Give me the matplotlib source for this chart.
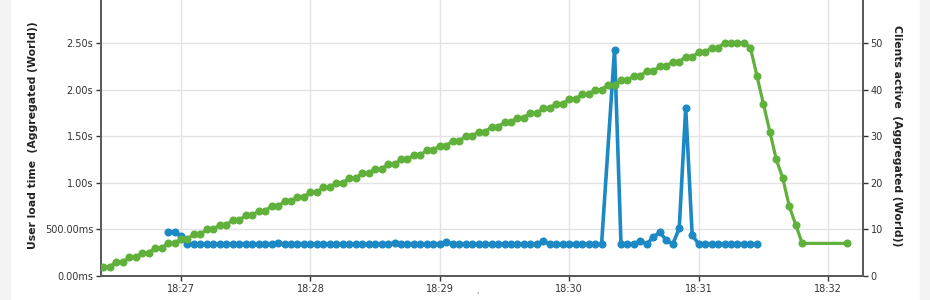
import numpy as np
import matplotlib
matplotlib.use("Agg")
import matplotlib.pyplot as plt
from matplotlib.patches import Rectangle

# samples every 3 s, time in minutes past 18:00
sample_start = 26.4
sample_step = 0.05

# clients active (Aggregated (World)) - one value per sample, nan = no sample
clients = [2, 2, 3, 3, 4, 4, 5, 5, 6, 6, 7, 7, 8, 8, 9, 9, 10, 10, 11, 11,
           12, 12, 13, 13, 14, 14, 15, 15, 16, 16, 17, 17, 18, 18, 19, 19, 20, 20, 21, 21,
           22, 22, 23, 23, 24, 24, 25, 25, 26, 26, 27, 27, 28, 28, 29, 29, 30, 30, 31, 31,
           32, 32, 33, 33, 34, 34, 35, 35, 36, 36, 37, 37, 38, 38, 39, 39, 40, 40, 41, 41,
           42, 42, 43, 43, 44, 44, 45, 45, 46, 46, 47, 47, 48, 48, 49, 49, 50, 50, 50, 50,
           49, 43, 37, 31, 25, 21, 15, 11, 7,
           np.nan, np.nan, np.nan, np.nan, np.nan, np.nan, 7]

# user load time in seconds, first sample at index 10
load_offset = 10
load_time = [0.475, 0.475, 0.43,
             0.343, 0.343, 0.343, 0.343, 0.343, 0.343, 0.343, 0.343, 0.343, 0.343,
             0.343, 0.343, 0.343, 0.343, 0.355, 0.343, 0.343, 0.343, 0.343, 0.343,
             0.343, 0.343, 0.343, 0.343, 0.343, 0.343, 0.343, 0.343, 0.343, 0.343,
             0.343, 0.343, 0.355, 0.343, 0.343, 0.343, 0.343, 0.343, 0.343, 0.343,
             0.365,
             0.343, 0.343, 0.343, 0.343, 0.343, 0.343, 0.343, 0.343, 0.343, 0.343,
             0.343, 0.343, 0.343, 0.343,
             0.375,
             0.343, 0.343, 0.343, 0.343, 0.343, 0.343, 0.343, 0.343, 0.343,
             np.nan,
             2.43, 0.343, 0.343, 0.343, 0.379, 0.343, 0.42, 0.468, 0.386, 0.343,
             0.51, 1.806, 0.44,
             0.343, 0.343, 0.343, 0.343, 0.343, 0.343, 0.343, 0.343, 0.343, 0.343]

x_ticks = [27, 28, 29, 30, 31, 32]
x_labels = ["18:27", "18:28", "18:29", "18:30", "18:31", "18:32"]
left_ticks = [0, 0.5, 1.0, 1.5, 2.0, 2.5]
left_labels = ["0.00ms", "500.00ms", "1.00s", "1.50s", "2.00s", "2.50s"]
right_ticks = [0, 10, 20, 30, 40, 50]

blue = "#1d89c4"
green = "#60b13c"
spine_col = "#5a5a5a"
txt_col = "#333333"

clients = np.array(clients, dtype=float)
t_clients = sample_start + sample_step * np.arange(len(clients))
ok = ~np.isnan(clients)

load_time = np.array(load_time, dtype=float)
t_load = sample_start + sample_step * (load_offset + np.arange(len(load_time)))
ok2 = ~np.isnan(load_time)

fig = plt.figure(figsize=(9.3, 3.0), dpi=100)
fig.patches.append(Rectangle((0, 0), 10/930, 1, transform=fig.transFigure, color="#f3f3f3", zorder=-10))
fig.patches.append(Rectangle((920/930, 0), 10/930, 1, transform=fig.transFigure, color="#f3f3f3", zorder=-10))

ax = fig.add_axes([101/930, 24/300, 762/930, 279.6/300])
ax2 = ax.twinx()

ax.plot(t_load[ok2], load_time[ok2], color=blue, lw=2.6, marker="o", ms=4.8,
        mfc=blue, mec=blue, zorder=3)
ax2.plot(t_clients[ok], clients[ok], color=green, lw=2.3, marker="o", ms=4.8,
         mfc=green, mec=green, zorder=3)

ax.set_xlim(26.382, 32.27)
ax.set_ylim(0, 3.0)
ax2.set_ylim(0, 60)

ax.set_xticks(x_ticks)
ax.set_xticklabels(x_labels)
ax.set_yticks(left_ticks)
ax.set_yticklabels(left_labels)
ax2.set_yticks(right_ticks)
ax2.set_yticklabels([str(v) for v in right_ticks])

ax.grid(True, color="#e3e3e3", lw=1.0)
ax.set_axisbelow(True)

for a in (ax, ax2):
    a.spines["top"].set_visible(False)
    for s in ("left", "right", "bottom"):
        a.spines[s].set_color(spine_col)
        a.spines[s].set_linewidth(1.3)
    a.tick_params(colors=txt_col, labelsize=7, length=3.5, width=1, pad=2)

ax2.set_zorder(ax.get_zorder() + 1)
ax.patch.set_visible(True)
ax2.patch.set_visible(False)

fig.text(33/930, 1 - 135/300, "User load time  (Aggregated (World))", rotation=90,
         ha="center", va="center", fontsize=7.8, fontweight="bold", color="#222222")
fig.text(897/930, 1 - 136/300, "Clients active  (Aggregated (World))", rotation=-90,
         ha="center", va="center", fontsize=7.8, fontweight="bold", color="#222222")
fig.text(477/930, 1 - 296/300, "ˈ", ha="center", va="center", fontsize=6, color="#555555")

fig.savefig("out.png", dpi=100)
